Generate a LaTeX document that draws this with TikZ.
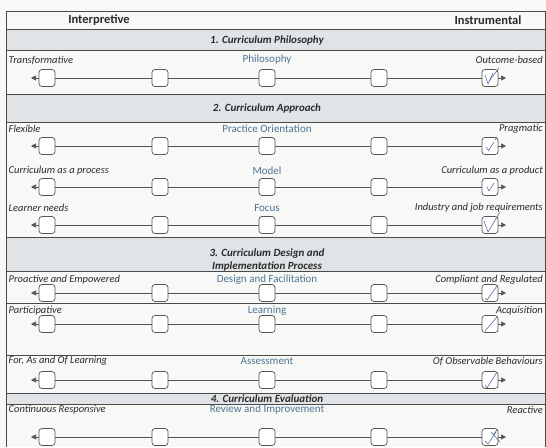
\documentclass[tikz,border=0pt]{standalone}
\usepackage{fontspec}
\setmainfont{Carlito}
\usetikzlibrary{arrows.meta}
\definecolor{paper}{HTML}{F8F8F6}
\definecolor{band}{HTML}{E0E4E7}
\definecolor{rule}{HTML}{4A4A4A}
\definecolor{axis}{HTML}{555555}
\definecolor{dimtext}{HTML}{4D7596}
\definecolor{ink}{HTML}{2B2B2B}
\definecolor{pen}{HTML}{5B6B9E}

\begin{document}
\begin{tikzpicture}[x=1pt,y=-1pt,
  cbox/.style={draw=axis, fill=white, line width=0.7pt, rounded corners=3pt,
    minimum width=16pt, minimum height=17pt, inner sep=0pt},
  axisline/.style={draw=axis, line width=0.7pt},
  tipend/.style={axisline, -{Triangle[length=5pt,width=5pt]}},
  pole/.style={font=\fontsize{10.5}{12}\selectfont\itshape, text=ink, inner sep=0pt},
  dim/.style={font=\fontsize{11}{12}\selectfont, text=dimtext, inner sep=0pt},
  section/.style={font=\fontsize{11}{12.5}\selectfont\bfseries\itshape, text=ink,
    align=center, inner sep=0pt},
  head/.style={font=\fontsize{12.5}{14}\selectfont\bfseries, text=ink, inner sep=0pt},
  sep/.style={draw=rule, line width=0.6pt},
  tick/.style={draw=pen, line width=0.6pt, line cap=round, line join=round}]

% page and bounding box
\fill[paper] (0,0) rectangle (546,447);
\useasboundingbox (0,0) rectangle (546,447);

% shaded section bands
\fill[band] (6,29) rectangle (546,50);
\fill[band] (6,94) rectangle (546,122);
\fill[band] (6,237) rectangle (546,271);
\fill[band] (6,393) rectangle (546,404);

% table rules
\foreach \y in {11,29,50,94,122,237,271,303,355,393,404}
  \draw[sep] (6,\y) -- (546,\y);
\draw[sep] (6,11) -- (6,447);
\draw[sep] (545.5,11) -- (545.5,447);

% column heads
\node[head] (interp) at (99,20) {Interpretive};
\node[head] (instr) at (488,20) {Instrumental};

% section titles
\node[section] (s1) at (267,40.5) {1. Curriculum Philosophy};
\node[section] (s2) at (267,108.5) {2. Curriculum Approach};
\node[section] (s3) at (267,260) {3. Curriculum Design and\\Implementation Process};
\node[section] (s4) at (267,398.5) {4. Curriculum Evaluation};

% scales: pole labels, dimension name, five boxes on an axis
\foreach \r/\ly/\by/\lt/\ct/\rt in {
  1/60/78/Transformative/Philosophy/Outcome-based,
  2/129/146/Flexible/Practice Orientation/Pragmatic,
  3/171/187/Curriculum as a process/Model/Curriculum as a product,
  4/208/225/Learner needs/Focus/Industry and job requirements,
  5/279.5/293/Proactive and Empowered/Design and Facilitation/Compliant and Regulated,
  6/311/324/Participative/Learning/Acquisition,
  7/361/380/{For, As and Of Learning}/Assessment/Of Observable Behaviours,
  8/410/437/Continuous Responsive/Review and Improvement/Reactive}
{
  \node[pole, anchor=west] (lp\r) at (8.5,\ly) {\lt};
  \node[dim] (dm\r) at (267,\ly) {\ct};
  \node[pole, anchor=east] (rp\r) at (543,\ly) {\rt};
  \foreach \i/\x in {1/47,2/160,3/267,4/379,5/490}
    \node[cbox] (b\r-\i) at (\x,\by) {};
  \coordinate (tl\r) at (31,\by);
  \coordinate (tr\r) at (506,\by);
  \draw[tipend] (b\r-1) -- (tl\r);
  \draw[tipend] (b\r-5) -- (tr\r);
  \foreach \i/\j in {1/2,2/3,3/4,4/5}
    \draw[axisline] (b\r-\i) -- (b\r-\j);
}

% pen marks in the chosen boxes
\draw[tick] (485,75) -- (488,84) -- (493,73);
\draw[tick] (489,81) -- (499,68);
\draw[tick] (486,147) -- (488.5,150.5) -- (494,142);
\draw[tick] (495,140) -- (497,137);
\draw[tick] (487,187) -- (489,191) -- (494,183);
\draw[tick] (484,221) -- (488,232) -- (500,212);
\draw[tick] (485,298) -- (487,300) -- (497,286);
\draw[tick] (485,331) -- (497,317);
\draw[tick] (485,385) -- (487,388) -- (497,372);
\draw[tick] (485,441) -- (488,444) -- (496,432);
\draw[tick] (491,432) -- (500,442);
\draw[tick] (497,430) -- (493,435);
\end{tikzpicture}
\end{document}
